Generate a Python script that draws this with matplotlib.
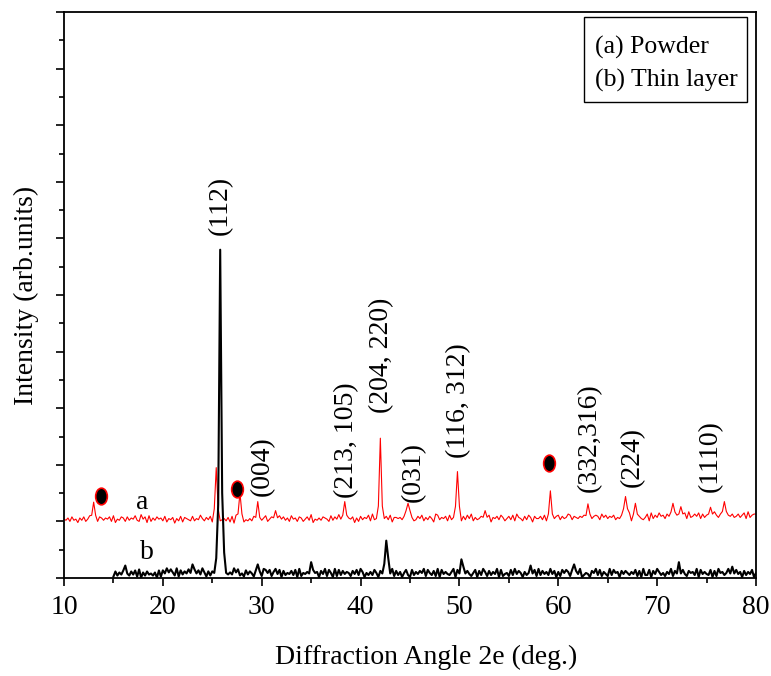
import numpy as np
import matplotlib
matplotlib.use("Agg")
import matplotlib.pyplot as plt
from matplotlib.path import Path
from matplotlib.patches import Rectangle
from matplotlib.transforms import Affine2D
from matplotlib.ticker import MultipleLocator

plt.rcParams['font.family'] = ['Liberation Serif', 'DejaVu Serif']

# scan grid (deg.)
step = 0.2
red_start = 10.0
black_start = 15.0
x_end = 80.0

# baseline noise, one digit per grid step
red_noise = (
    "4352634153" "6247354265" "3546271436" "5263547328" "4617253645"
    "3725461537" "2654373548" "5364725163" "4536271854" "6243537265"
    "3572461347" "4635274526" "5246381435" "3654273648" "4273546152"
    "6354728346" "2546371554" "5364275236" "4725364187" "3546273564"
    "5263748253" "4635271546" "3752463728" "5426375164" "4637258346"
    "6253476254" "3546287356" "5274635462" "4365728154" "6532471836"
    "3745264557" "5463728346" "4726354618" "5364275463" "4635728356"
    "6354827465"
)
black_noise = (
    "2736481537" "4829163745" "3618274958" "5291736484" "2847395162"
    "6372819435" "3958241736" "4173629858" "2694817354" "7381925463"
    "3856174928" "5192837465" "2748396153" "6385172947" "4927361583"
    "1836475928" "5372918464" "3691825737" "4258173962" "7364918245"
    "2839475163" "5618293746" "3947162858" "6283749135" "4175938264"
    "2938561747" "5364827193" "3817496352" "6492735184" "2756391846"
    "4381729563" "5927384617" "3648152937"
)

# baseline level per 10 deg. band, starting at 10 deg.
red_base = [1.05, 1.04, 1.05, 1.06, 1.06, 1.08, 1.10]
black_base = [0.07, 0.09, 0.08, 0.08, 0.08, 0.08, 0.08]

# (a) powder peaks
red_peak_pos = [13.0, 25.4, 27.8, 29.6, 31.4, 38.4, 42.0, 44.8, 49.8, 52.6,
                59.2, 63.0, 66.8, 67.8, 71.6, 72.4, 75.4, 76.8]
red_peak_top = [1.34, 1.95, 1.50, 1.35, 1.19, 1.35, 2.47, 1.32, 1.88, 1.19,
                1.54, 1.31, 1.44, 1.32, 1.32, 1.26, 1.25, 1.35]
red_peak_shoulder = [0.2, 0.2, 0.2, 0.1, 0.1, 0.2, 0.15, 0.5, 0.25, 0.1,
                     0.15, 0.1, 0.4, 0.2, 0.3, 0.2, 0.2, 0.3]

# (b) thin layer peaks
black_peak_pos = [16.2, 23.0, 25.4, 25.6, 25.8, 26.0, 26.2, 29.6, 35.0, 42.4,
                  42.6, 42.8, 50.2, 50.4, 57.2, 61.6, 72.2, 77.6]
black_peak_top = [0.22, 0.24, 0.35, 1.3, 5.8, 1.5, 0.45, 0.24, 0.28, 0.25,
                  0.66, 0.35, 0.33, 0.2, 0.22, 0.24, 0.28, 0.2]

# peak labels
label_text = ["(112)", "(004)", "(213, 105)", "(204, 220)", "(031)",
              "(116, 312)", "(332,316)", "(224)", "(1110)"]
label_x = [25.8, 30.1, 38.55, 42.1, 45.3, 49.9, 63.1, 67.5, 75.4]
label_y = [6.06, 1.45, 1.41, 2.92, 1.35, 2.12, 1.52, 1.61, 1.52]

# impurity markers
dot_x = [13.7, 27.55, 59.1]
dot_y = [1.44, 1.57, 2.04]

legend_lines = ["(a) Powder", "(b) Thin layer"]


def build(start, noise, base, scale, pos, top, shoulder=None):
    n = int(round((x_end - start) / step)) + 1
    x = start + step * np.arange(n)
    d = np.array([int(c) for c in noise[:n]], float)
    seg = np.minimum(((x - 10) // 10).astype(int), len(base) - 1)
    b = np.array(base)[seg]
    y = b + (d - 4.5) * scale
    if shoulder is None:
        shoulder = [0] * len(pos)
    for p, t, s in zip(pos, top, shoulder):
        i = int(round((p - start) / step))
        y[i] = t
        for j in (i - 1, i + 1):
            if 0 <= j < n:
                y[j] = max(y[j], b[j] + (t - b[j]) * s)
    return x, y


xa, ya = build(red_start, red_noise, red_base, 0.02,
               red_peak_pos, red_peak_top, red_peak_shoulder)
xb, yb = build(black_start, black_noise, black_base, 0.018,
               black_peak_pos, black_peak_top)

fig = plt.figure(figsize=(7.71, 6.76), dpi=100)
ax = fig.add_axes([64 / 771, 1 - 578 / 676, 692 / 771, 566 / 676])

ax.plot(xa, ya, color='red', lw=0.8)
ax.plot(xb, yb, color='black', lw=1.5)

ell = Path.unit_circle().transformed(Affine2D().scale(0.7, 1.0))
ax.plot(dot_x, dot_y, ls='none', marker=ell, ms=12, mfc='black',
        mec='red', mew=1.2)

for t, x, y in zip(label_text, label_x, label_y):
    ax.text(x, y, t, rotation=90, ha='center', va='bottom', fontsize=20)

ax.text(17.9, 1.34, 'a', fontsize=20, ha='center', va='center')
ax.text(18.4, 0.45, 'b', fontsize=20, ha='center', va='center')

# legend box (plain text, no handles)
ax.add_patch(Rectangle((0.7514, 0.841), 0.2356, 0.150, transform=ax.transAxes,
                       fc='white', ec='black', lw=1.0, zorder=5))
for line, yy in zip(legend_lines, [0.937, 0.879]):
    ax.text(0.767, yy, line, transform=ax.transAxes, fontsize=18.5,
            ha='left', va='center', zorder=6)

ax.set_xlim(10, 80)
ax.set_ylim(0, 10)
ax.xaxis.set_major_locator(MultipleLocator(10))
ax.xaxis.set_minor_locator(MultipleLocator(5))
ax.yaxis.set_major_locator(MultipleLocator(1))
ax.yaxis.set_minor_locator(MultipleLocator(0.5))
ax.tick_params(which='major', direction='out', length=6, width=1.2,
               labelsize=20, pad=6)
ax.tick_params(which='minor', direction='out', length=3.5, width=1.2)
ax.tick_params(axis='y', labelleft=False)
for s in ax.spines.values():
    s.set_linewidth(1.3)

ax.text(0.523, -0.141, 'Diffraction Angle 2e (deg.)', transform=ax.transAxes,
        fontsize=20, ha='center', va='center')
ax.text(-0.054, 0.5, 'Intensity (arb.units)', transform=ax.transAxes,
        fontsize=20, ha='center', va='center', rotation=90)

fig.savefig('out.png', dpi=100)
